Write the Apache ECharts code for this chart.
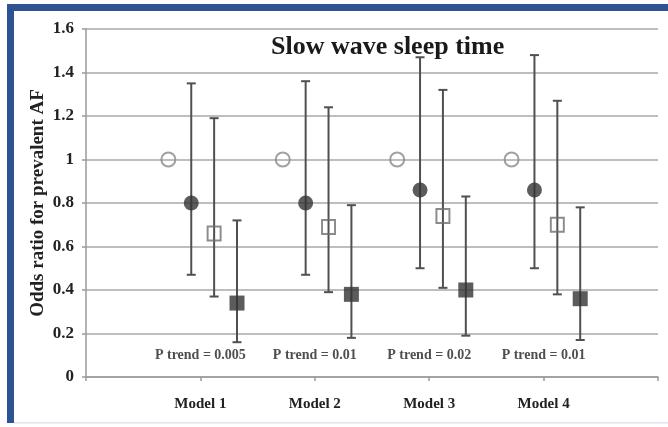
<!DOCTYPE html>
<html>
<head>
<meta charset="utf-8">
<script src="https://cdn.jsdelivr.net/npm/echarts@6/dist/echarts.min.js"></script>
<style>
html,body{margin:0;padding:0;background:#fff;}
#chart{width:668px;height:427px;}
</style>
</head>
<body>
<div id="chart"></div>
<script>
// ---- data ----
const models = ['Model 1', 'Model 2', 'Model 3', 'Model 4'];
const refOR = [1, 1, 1, 1];
const q2OR = [0.80, 0.80, 0.86, 0.86];
const q2Lo = [0.47, 0.47, 0.50, 0.50];
const q2Hi = [1.35, 1.36, 1.47, 1.48];
const q3OR = [0.66, 0.69, 0.74, 0.70];
const q3Lo = [0.37, 0.39, 0.41, 0.38];
const q3Hi = [1.19, 1.24, 1.32, 1.27];
const q4OR = [0.34, 0.38, 0.40, 0.36];
const q4Lo = [0.16, 0.18, 0.19, 0.17];
const q4Hi = [0.72, 0.79, 0.83, 0.78];
const pTrend = ['P trend = 0.005', 'P trend = 0.01', 'P trend = 0.02', 'P trend = 0.01'];
const pTrendY = 0.1;
const yTicks = [0, 0.2, 0.4, 0.6, 0.8, 1, 1.2, 1.4, 1.6];

// ---- layout (not data) ----
const offs = [-0.28, -0.08, 0.12, 0.32];
const serif = '"Liberation Serif", "Times New Roman", serif';

function pts(vals, k) { return vals.map((v, i) => [i + 1 + offs[k], v]); }
function bars(lo, hi, k) { return lo.map((l, i) => [i + 1 + offs[k], l, hi[i]]); }

function errRender(params, api) {
  const x = api.value(0);
  const a = api.coord([x, api.value(1)]);
  const b = api.coord([x, api.value(2)]);
  const cw = 4.5;
  const st = { stroke: '#505050', lineWidth: 2 };
  return {
    type: 'group',
    children: [
      { type: 'line', shape: { x1: a[0], y1: a[1], x2: b[0], y2: b[1] }, style: st },
      { type: 'line', shape: { x1: a[0] - cw, y1: a[1], x2: a[0] + cw, y2: a[1] }, style: st },
      { type: 'line', shape: { x1: b[0] - cw, y1: b[1], x2: b[0] + cw, y2: b[1] }, style: st }
    ]
  };
}

function errSeries(lo, hi, k) {
  return {
    type: 'custom', renderItem: errRender, data: bars(lo, hi, k),
    encode: { x: 0, y: [1, 2] }, z: 2, silent: true
  };
}

const chart = echarts.init(document.getElementById('chart'), null, { renderer: 'canvas' });
chart.setOption({
  animation: false,
  backgroundColor: '#fff',
  title: {
    text: 'Slow wave sleep time',
    left: 266, top: 29,
    textStyle: { fontFamily: serif, fontWeight: 'bold', fontSize: 26, color: '#1a1a1a' }
  },
  grid: { left: 86, right: 10, top: 29, bottom: 50 },
  xAxis: {
    type: 'value', min: 0, max: 5, interval: 1,
    axisLine: { show: true, lineStyle: { color: '#9a9a9a', width: 1.5 } },
    axisTick: { show: true, length: 4, lineStyle: { color: '#9a9a9a', width: 1.5 } },
    splitLine: { show: false },
    axisLabel: {
      margin: 20, fontFamily: serif, fontWeight: 'bold', fontSize: 15, color: '#222',
      formatter: v => (v >= 1 && v <= models.length) ? models[v - 1] : ''
    }
  },
  yAxis: {
    type: 'value', min: yTicks[0], max: yTicks[yTicks.length - 1], interval: 0.2,
    name: 'Odds ratio for prevalent AF', nameLocation: 'middle', nameGap: 38,
    nameMoveOverlap: false,
    nameTextStyle: { fontFamily: serif, fontWeight: 'bold', fontSize: 19, color: '#222' },
    axisLine: { show: true, lineStyle: { color: '#9a9a9a', width: 1.5 } },
    axisTick: { show: true, length: 4, lineStyle: { color: '#9a9a9a', width: 1.5 } },
    splitLine: { show: true, lineStyle: { color: '#a8a8a8', width: 1.5 } },
    axisLabel: {
      margin: 12, fontFamily: serif, fontWeight: 'bold', fontSize: 17, color: '#222',
      formatter: v => String(+(+v).toFixed(1))
    }
  },
  series: [
    errSeries(q2Lo, q2Hi, 1),
    errSeries(q3Lo, q3Hi, 2),
    errSeries(q4Lo, q4Hi, 3),
    {
      type: 'scatter', data: pts(refOR, 0), symbol: 'circle', symbolSize: 14, z: 3,
      itemStyle: { color: 'transparent', borderColor: '#8a8a8a', borderWidth: 2 }
    },
    {
      type: 'scatter', data: pts(q2OR, 1), symbol: 'circle', symbolSize: 15, z: 3,
      itemStyle: { color: '#333' }
    },
    {
      type: 'scatter', data: pts(q3OR, 2), symbol: 'rect', symbolSize: [13, 14], z: 3,
      itemStyle: { color: 'transparent', borderColor: '#6e6e6e', borderWidth: 2 }
    },
    {
      type: 'scatter', data: pts(q4OR, 3), symbol: 'rect', symbolSize: 15, z: 3,
      itemStyle: { color: '#333' }
    },
    {
      type: 'scatter', symbolSize: 0, z: 4, silent: true,
      data: pTrend.map((t, i) => ({ value: [i + 1, pTrendY], name: t })),
      label: {
        show: true, position: 'inside', formatter: p => p.name,
        fontFamily: serif, fontWeight: 'bold', fontSize: 14, color: '#222'
      }
    }
  ],
  graphic: [
    { type: 'rect', shape: { x: 7, y: 4, width: 661, height: 7 }, style: { fill: '#2E5395' }, z: 100 },
    { type: 'rect', shape: { x: 7, y: 4, width: 7, height: 419 }, style: { fill: '#2E5395' }, z: 100 },
    { type: 'rect', shape: { x: 14, y: 422, width: 654, height: 1.5 }, style: { fill: '#dfe4ee' }, z: 100 }
  ]
});
</script>
</body>
</html>
